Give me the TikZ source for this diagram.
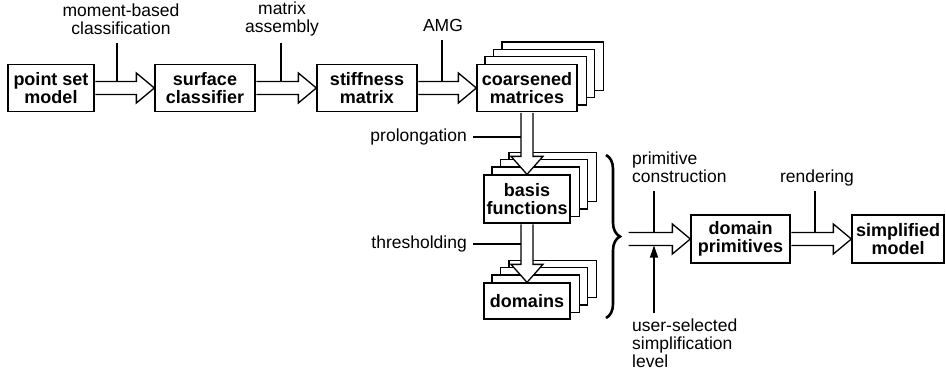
\documentclass[tikz,border=0pt]{standalone}
\usepackage{fontspec}
\setmainfont{Liberation Sans}
\usetikzlibrary{calc,arrows.meta,decorations.pathreplacing}
\pgfdeclarelayer{bg}
\pgfsetlayers{bg,main}
\tikzset{
  box/.style={draw, fill=white, line width=1.3pt, inner sep=0pt, align=center,
    font=\fontsize{18}{17.5}\selectfont\bfseries},
  lbl/.style={inner sep=0pt, align=center, font=\fontsize{17.5}{18}\selectfont},
  conn/.style={line width=1.3pt, line join=miter},
  tick/.style={line width=1.1pt},
}
\newcommand\harrow[2]{%
  \draw[conn] let \p1=(#1), \p2=(#2) in
    (\x1+0.6pt,\y2+6.5pt) -- (\x2-18pt,\y2+6.5pt) -- (\x2-18pt,\y2+15pt) -- (\x2,\y2)
    -- (\x2-18pt,\y2-15pt) -- (\x2-18pt,\y2-6.5pt) -- (\x1+0.6pt,\y2-6.5pt);}
\newcommand\varrow[2]{%
  \draw[conn, fill=white] let \p1=(#1), \p2=(#2) in
    (\x2-6pt,\y1-0.7pt) -- (\x2-6pt,\y2+18pt) -- (\x2-16pt,\y2+18pt) -- (\x2,\y2)
    -- (\x2+16pt,\y2+18pt) -- (\x2+6pt,\y2+18pt) -- (\x2+6pt,\y1-0.7pt);}
\newcommand\stackbehind[1]{%
  \begin{pgfonlayer}{bg}
  \foreach \k in {3,2,1}{
    \draw[line width=1.3pt, fill=white] ($(#1.north west)+(8.5*\k pt,7.3*\k pt)$)
      rectangle ($(#1.south east)+(8.5*\k pt,7.3*\k pt)$);}
  \end{pgfonlayer}}
\begin{document}
\begin{tikzpicture}[x=1pt,y=-1pt]
\useasboundingbox (0,0) rectangle (946,376);
% main boxes
\node[box, minimum width=86, minimum height=47] (psm) at (51,88) {point set\\model};
\node[box, minimum width=100, minimum height=47] (sc) at (205,88) {surface\\classifier};
\node[box, minimum width=100, minimum height=47] (sm) at (367,88) {stiffness\\matrix};
\node[box, minimum width=100, minimum height=47] (cm) at (527,88) {coarsened\\matrices};
\node[box, minimum width=86, minimum height=48] (bf) at (527,199) {basis\\functions};
\node[box, minimum width=86, minimum height=36] (dm) at (527,301) {domains};
\node[box, minimum width=99, minimum height=48] (dp) at (740.5,239) {domain\\primitives};
\node[box, minimum width=92, minimum height=48] (smod) at (898,239) {simplified\\model};
\stackbehind{cm}
\stackbehind{bf}
\stackbehind{dm}
% block arrows
\harrow{psm.east}{sc.west}
\harrow{sc.east}{sm.west}
\harrow{sm.east}{cm.west}
\varrow{cm.south}{bf.north}
\varrow{bf.south}{dm.north}
% brace
\draw[line width=2.6pt, decorate, decoration={brace, amplitude=14pt}] (606,155) -- (606,318);
\coordinate (bt) at (628,238);
\harrow{bt}{dp.west}
\harrow{dp.east}{smod.west}
% labels and their ticks
\node[lbl] (t1) at (121,19) {moment-based\\classification};
\coordinate (c1) at (117,43);
\draw[tick] (c1) -- ($(c1 |- sc.west)+(0pt,6.5pt)$);
\node[lbl] (t2) at (282,19) {matrix\\assembly};
\coordinate (c2) at (281,43);
\draw[tick] (c2) -- ($(c2 |- sm.west)+(0pt,6.5pt)$);
\node[lbl] (t3) at (443,25) {AMG};
\coordinate (c3) at (442,40);
\draw[tick] (c3) -- ($(c3 |- cm.west)+(0pt,6.5pt)$);
\node[lbl, anchor=east] (t4) at (467,137) {prolongation};
\coordinate (c4) at (473,137);
\draw[tick] (c4) -- ($(c4 -| cm.south)+(-6pt,0pt)$);
\node[lbl, anchor=east] (t5) at (467,244) {thresholding};
\coordinate (c5) at (473,244);
\draw[tick] (c5) -- ($(c5 -| bf.south)+(-6pt,0pt)$);
\node[lbl, anchor=west, align=left] (t6) at (632,167) {primitive\\construction};
\coordinate (c6) at (654,191);
\draw[tick] (c6) -- ($(c6 |- dp.west)+(0pt,6.5pt)$);
\node[lbl] (t7) at (817,178) {rendering};
\coordinate (c7) at (815,191);
\draw[tick] (c7) -- ($(c7 |- smod.west)+(0pt,6.5pt)$);
\node[lbl, anchor=west, align=left] (t8) at (632,343) {user-selected\\simplification\\level};
\coordinate (c8) at (654,313);
\draw[tick, -{Triangle[length=12pt,width=8pt]}] (c8) -- ($(c8 |- dp.west)+(0pt,-6.5pt)$);
\end{tikzpicture}
\end{document}
